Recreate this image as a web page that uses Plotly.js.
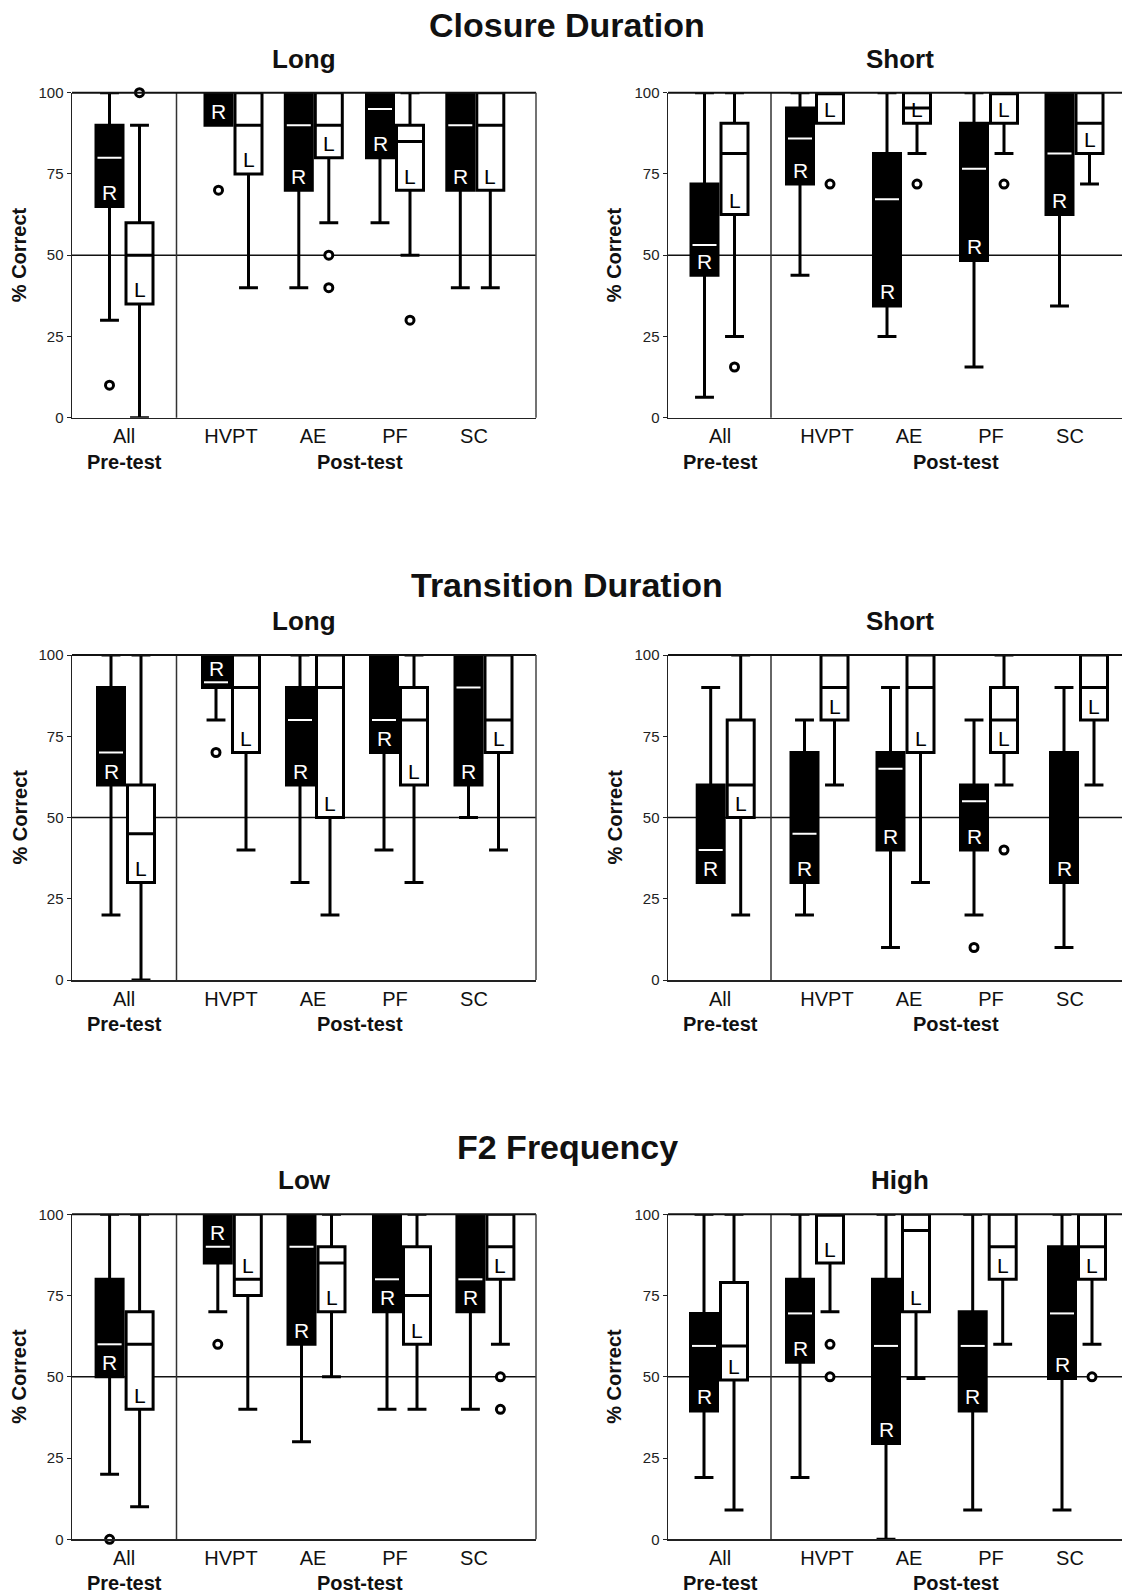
<!DOCTYPE html>
<html>
<head>
<meta charset="utf-8">
<script src="https://cdn.plot.ly/plotly-3.0.1.min.js"></script>
<style>
  html, body { margin: 0; padding: 0; background: #fff; }
  #chart { width: 1122px; height: 1594px; }
</style>
</head>
<body>
<div id="chart"></div>
<script>
// ---------------- DATA ----------------
const categories = ['All', 'HVPT', 'AE', 'PF', 'SC'];
const rowTitles = ['Closure Duration', 'Transition Duration', 'F2 Frequency'];
const panelTitles = ['Long', 'Short', 'Long', 'Short', 'Low', 'High'];
const phaseLabels = ['Pre-test', 'Post-test'];
const yTickVals = [0, 25, 50, 75, 100];
const yTitle = '% Correct';

// each row: [lower whisker, Q1, median, Q3, upper whisker] for All, HVPT, AE, PF, SC
const closureLongR = [[30, 65, 80, 90, 100], [90, 90, 100, 100, 100], [40, 70, 90, 100, 100], [60, 80, 95, 100, 100], [40, 70, 90, 100, 100]];
const closureLongL = [[0, 35, 50, 60, 90], [40, 75, 90, 100, 100], [60, 80, 90, 100, 100], [50, 70, 85, 90, 100], [40, 70, 90, 100, 100]];
const closureLongOut = [[0, 'R', 10], [0, 'L', 100], [1, 'R', 70], [2, 'L', 50], [2, 'L', 40], [3, 'L', 30]];

const closureShortR = [[6.3, 43.8, 53.1, 71.9, 100], [43.8, 71.9, 85.9, 95.3, 100], [25, 34.4, 67.2, 81.3, 100], [15.6, 48.4, 76.6, 90.6, 100], [34.4, 62.5, 81.3, 100, 100]];
const closureShortL = [[25, 62.5, 81.3, 90.6, 100], [90.6, 90.6, 100, 100, 100], [81.3, 90.6, 95.3, 100, 100], [81.3, 90.6, 100, 100, 100], [71.9, 81.3, 90.6, 100, 100]];
const closureShortOut = [[0, 'L', 15.6], [1, 'L', 71.9], [2, 'L', 71.9], [3, 'L', 71.9]];

const transitionLongR = [[20, 60, 70, 90, 100], [80, 90, 91.6, 100, 100], [30, 60, 80, 90, 100], [40, 70, 80, 100, 100], [50, 60, 90, 100, 100]];
const transitionLongL = [[0, 30, 45, 60, 100], [40, 70, 90, 100, 100], [20, 50, 90, 100, 100], [30, 60, 80, 90, 100], [40, 70, 80, 100, 100]];
const transitionLongOut = [[1, 'R', 70]];

const transitionShortR = [[30, 30, 40, 60, 90], [20, 30, 45, 70, 80], [10, 40, 65, 70, 90], [20, 40, 55, 60, 80], [10, 30, 30, 70, 90]];
const transitionShortL = [[20, 50, 60, 80, 100], [60, 80, 90, 100, 100], [30, 70, 90, 100, 100], [60, 70, 80, 90, 100], [60, 80, 90, 100, 100]];
const transitionShortOut = [[3, 'R', 10], [3, 'L', 40]];

const f2LowR = [[20, 50, 60, 80, 100], [70, 85, 90, 100, 100], [30, 60, 90, 100, 100], [40, 70, 80, 100, 100], [40, 70, 80, 100, 100]];
const f2LowL = [[10, 40, 60, 70, 100], [40, 75, 80, 100, 100], [50, 70, 85, 90, 100], [40, 60, 75, 90, 100], [60, 80, 90, 100, 100]];
const f2LowOut = [[0, 'R', 0], [1, 'R', 60], [4, 'L', 50], [4, 'L', 40]];

const f2HighR = [[19, 39.5, 59.5, 69.5, 100], [19, 54.5, 69.5, 80, 100], [0, 29.5, 59.5, 80, 100], [9, 39.5, 59.5, 70, 100], [9, 49.5, 69.5, 90, 100]];
const f2HighL = [[9, 49, 59.5, 79, 100], [70, 85, 100, 100, 100], [49.5, 70, 95, 100, 100], [60, 80, 90, 100, 100], [60, 80, 90, 100, 100]];
const f2HighOut = [[1, 'L', 60], [1, 'L', 50], [4, 'L', 50]];

// ---------------- LAYOUT GEOMETRY (px) ----------------
const W = 1122, H = 1594;
const colLeft = [72, 668];
const plotW = 464;
const rowTop = [92.7, 655, 1214.3];
const plotH = 325;
const tickPos = [52, 159, 241, 323, 402];
const pairCenters = [
  [52.5, 161.5, 241.8, 323, 403.3],
  [51.5, 147, 234, 321, 406.5],
  [54, 159, 243, 327, 411.5],
  [57.7, 151.5, 237.5, 321, 411],
  [52.6, 160.8, 244.5, 330, 413.4],
  [51, 147, 233, 319.7, 409]
];
const dividerPos = [104.5, 103];
const phasePos = [52, 288];
const halfGap = 15, boxW = 27;
const FONT = 'Liberation Sans, Arial, Helvetica, sans-serif';

const panels = [
  { R: closureLongR, L: closureLongL, out: closureLongOut },
  { R: closureShortR, L: closureShortL, out: closureShortOut },
  { R: transitionLongR, L: transitionLongL, out: transitionLongOut },
  { R: transitionShortR, L: transitionShortL, out: transitionShortOut },
  { R: f2LowR, L: f2LowL, out: f2LowOut },
  { R: f2HighR, L: f2HighL, out: f2HighOut }
];

const traces = [];
const shapes = [];
const annotations = [];
const layout = {
  width: W, height: H,
  margin: { l: 0, r: 0, t: 0, b: 0 },
  paper_bgcolor: '#fff', plot_bgcolor: 'rgba(0,0,0,0)',
  showlegend: false,
  font: { family: FONT, color: '#111' },
  boxmode: 'overlay'
};

function boxTrace(stats, pos, fill, xa, ya) {
  return {
    type: 'box', x: pos,
    lowerfence: stats.map(s => s[0]), q1: stats.map(s => s[1]), median: stats.map(s => s[2]),
    q3: stats.map(s => s[3]), upperfence: stats.map(s => s[4]),
    width: boxW, whiskerwidth: 0.7, fillcolor: fill,
    line: { color: '#000', width: 3 }, boxpoints: false,
    xaxis: xa, yaxis: ya, hoverinfo: 'skip'
  };
}

// the R / L letter sits in the lowest box section that is tall enough for it
function labelBase(s) {
  return (s[2] - s[1] < 8 && s[3] - s[2] >= 8) ? s[2] : s[1];
}

panels.forEach((p, i) => {
  const k = i + 1, row = Math.floor(i / 2), col = i % 2;
  const sfx = k === 1 ? '' : String(k);
  const xa = 'x' + sfx, ya = 'y' + sfx;
  const top = rowTop[row], bottom = top + plotH;
  const x0 = colLeft[col] / W;
  const x1 = col === 0 ? (colLeft[col] + plotW) / W : 1;
  const xMax = col === 0 ? plotW : W - colLeft[col];

  layout['xaxis' + sfx] = {
    domain: [x0, x1], range: [0, xMax], anchor: ya,
    showline: true, linecolor: '#222', linewidth: 1.5, zeroline: false, showgrid: false,
    tickmode: 'array', tickvals: tickPos, ticktext: categories, ticks: '',
    tickfont: { family: FONT, size: 20, color: '#111' }, fixedrange: true
  };
  layout['yaxis' + sfx] = {
    domain: [1 - bottom / H, 1 - top / H], range: [0, 100], anchor: xa,
    showline: true, linecolor: '#222', linewidth: 1.5, zeroline: false, showgrid: false,
    tickmode: 'array', tickvals: yTickVals, ticks: 'outside', ticklen: 4, tickwidth: 1, tickcolor: '#222',
    tickfont: { family: FONT, size: 15, color: '#222' }, fixedrange: true
  };

  shapes.push({ type: 'line', xref: xa + ' domain', yref: ya, x0: 0, x1: 1, y0: 50, y1: 50, line: { color: '#111', width: 1.5 }, layer: 'below' });
  shapes.push({ type: 'line', xref: xa, yref: ya + ' domain', x0: dividerPos[col], x1: dividerPos[col], y0: 0, y1: 1, line: { color: '#333', width: 1.5 }, layer: 'below' });
  shapes.push({ type: 'line', xref: xa + ' domain', yref: ya + ' domain', x0: 0, x1: 1, y0: 1, y1: 1, line: { color: '#111', width: 2 }, layer: 'above' });
  if (col === 0) {
    shapes.push({ type: 'line', xref: xa + ' domain', yref: ya + ' domain', x0: 1, x1: 1, y0: 0, y1: 1, line: { color: '#444', width: 1.5 }, layer: 'above' });
  }

  const posR = pairCenters[i].map(c => c - halfGap);
  const posL = pairCenters[i].map(c => c + halfGap);
  traces.push(boxTrace(p.R, posR, '#000', xa, ya));
  traces.push(boxTrace(p.L, posL, '#fff', xa, ya));

  const mx = [], my = [];
  p.R.forEach((s, j) => {
    if (s[2] > s[1] && s[2] < s[3]) {
      mx.push(posR[j] - boxW / 2 + 1.5, posR[j] + boxW / 2 - 1.5, null);
      my.push(s[2], s[2], null);
    }
  });
  traces.push({ type: 'scatter', mode: 'lines', x: mx, y: my, xaxis: xa, yaxis: ya, line: { color: '#fff', width: 2 }, hoverinfo: 'skip' });

  const ox = p.out.map(o => (o[1] === 'R' ? posR : posL)[o[0]]);
  const oy = p.out.map(o => o[2]);
  traces.push({ type: 'scatter', mode: 'markers', x: ox, y: oy, xaxis: xa, yaxis: ya, cliponaxis: false,
    marker: { symbol: 'circle', size: 8, color: '#fff', line: { color: '#000', width: 3 } }, hoverinfo: 'skip' });

  [['R', p.R, posR, '#fff'], ['L', p.L, posL, '#000']].forEach(g => {
    g[1].forEach((s, j) => {
      annotations.push({ xref: xa, yref: ya, x: g[2][j], y: labelBase(s), yshift: 14, text: g[0], showarrow: false,
        xanchor: 'center', yanchor: 'middle', font: { family: FONT, size: 21, color: g[3] } });
    });
  });

  phaseLabels.forEach((t, j) => {
    annotations.push({ xref: xa, yref: 'paper', x: phasePos[j], y: 1 - (bottom + 44) / H, text: '<b>' + t + '</b>',
      showarrow: false, xanchor: 'center', yanchor: 'middle', font: { family: FONT, size: 20, color: '#111' } });
  });

  annotations.push({ xref: 'paper', yref: 'paper', x: (col === 0 ? 19 : 614) / W, y: 1 - (top + plotH / 2) / H,
    text: '<b>' + yTitle + '</b>', textangle: -90, showarrow: false, xanchor: 'center', yanchor: 'middle',
    font: { family: FONT, size: 20, color: '#111' } });

  const subTop = [59, 621, 1180][row];
  annotations.push({ xref: 'paper', yref: 'paper', x: (colLeft[col] + plotW / 2) / W, y: 1 - subTop / H,
    text: '<b>' + panelTitles[i] + '</b>', showarrow: false, xanchor: 'center', yanchor: 'middle',
    font: { family: FONT, size: 26, color: '#111' } });
});

const rowTitleY = [25.4, 585.4, 1147.4];
rowTitles.forEach((t, r) => {
  annotations.push({ xref: 'paper', yref: 'paper', x: 567 / W, y: 1 - rowTitleY[r] / H,
    text: '<b>' + t + '</b>', showarrow: false, xanchor: 'center', yanchor: 'middle',
    font: { family: FONT, size: 34, color: '#111' } });
});

layout.shapes = shapes;
layout.annotations = annotations;

Plotly.newPlot('chart', traces, layout, { staticPlot: true, displayModeBar: false });
</script>
</body>
</html>
